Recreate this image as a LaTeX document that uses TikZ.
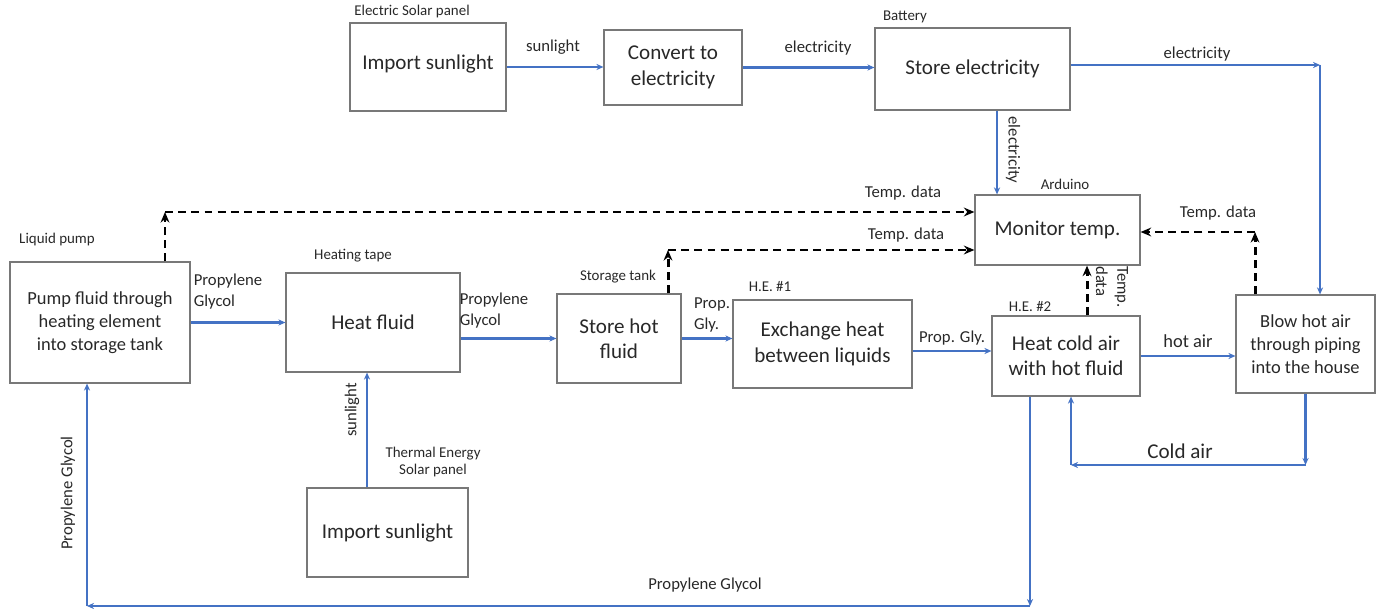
\documentclass[tikz,border=0pt]{standalone}
\usepackage{fontspec}
\setmainfont{Carlito}
\definecolor{FlowBlue}{RGB}{68,114,196}
\definecolor{BoxGray}{RGB}{120,120,120}
\definecolor{InkGray}{RGB}{40,40,40}
\usetikzlibrary{arrows.meta,positioning}

\tikzset{
  stepbox/.style={draw=BoxGray, line width=0.7pt, align=center, inner sep=1pt,
    text=InkGray, font=\fontsize{12}{14.5}\selectfont},
  smallbox/.style={stepbox, font=\fontsize{10.5}{13}\selectfont},
  tag/.style={inner sep=0pt, text=InkGray, font=\fontsize{8.5}{10}\selectfont},
  flowlbl/.style={inner sep=0pt, align=left, text=InkGray, font=\fontsize{9.5}{12}\selectfont},
  flow/.style={draw=FlowBlue, line width=1.3pt, -{Stealth[length=4pt,width=3.5pt]}},
  tempdata/.style={draw=black, line width=1.7pt, dash pattern=on 4.5pt off 3pt,
    -{Stealth[length=6pt,width=5pt]}},
}

\begin{document}
\begin{tikzpicture}[x=0.02cm, y=-0.02cm]
\useasboundingbox (0,0) rectangle (1381,614);

% electric side
\node[stepbox, minimum width=3.12cm, minimum height=1.76cm] (sun1) at (428,67) {\raisebox{5pt}{Import sunlight}};
\node[stepbox, minimum width=2.76cm, minimum height=1.5cm] (conv) at (673,67.5) {Convert to\\electricity};
\node[stepbox, minimum width=3.9cm, minimum height=1.64cm] (batt) at (972.5,69) {\raisebox{2.5pt}{Store electricity}};
\node[stepbox, minimum width=3.3cm, minimum height=1.4cm] (ardu) at (1057.5,230) {\raisebox{2pt}{Monitor temp.}};

% fluid loop
\node[smallbox, minimum width=3.6cm, minimum height=2.42cm] (pump) at (100,322.5) {Pump fluid through\\heating element\\into storage tank};
\node[stepbox, minimum width=3.48cm, minimum height=1.98cm] (tape) at (373,322.5) {Heat fluid};
\node[stepbox, minimum width=2.48cm, minimum height=1.78cm] (tank) at (619,338.5) {Store hot\\fluid};
\node[stepbox, minimum width=3.58cm, minimum height=1.76cm] (hexa) at (822.5,344) {Exchange heat\\between liquids};
\node[stepbox, minimum width=2.96cm, minimum height=1.6cm] (hexb) at (1066,356) {Heat cold air\\with hot fluid};
\node[smallbox, minimum width=2.78cm, minimum height=1.96cm] (blow) at (1305.5,344) {Blow hot air\\through piping\\into the house};
\node[stepbox, minimum width=3.22cm, minimum height=1.78cm] (sun2) at (387.5,532.5) {Import sunlight};

% part names
\node[tag] (tsolar) at (412,12) {Electric Solar panel};
\node[tag] (tbatt) at (905,17) {Battery};
\node[tag] (tardu) at (1065,184) {Arduino};
\node[tag] (tpump) at (57,240) {Liquid pump};
\node[tag] (ttape) at (353,256) {Heating tape};
\node[tag] (ttank) at (618,277) {Storage tank};
\node[tag] (thexa) at (770,287) {H.E. \#1};
\node[tag] (thexb) at (1030,307) {H.E. \#2};
\node[tag, align=center] (tthermal) at (433,462) {Thermal Energy\\Solar panel};

% electricity
\draw[flow] (sun1.east) -- (sun1.east -| conv.west);
\draw[flow] (conv.east) -- (conv.east -| batt.west);
\coordinate (elbow) at (1320,65);
\draw[flow] (batt.east |- elbow) -- (elbow);
\draw[flow] (elbow) -- (elbow |- blow.north);
\coordinate (battdrop) at (997,0);
\draw[flow] (battdrop |- batt.south) -- (battdrop |- ardu.north);

% temperature data
\coordinate (pumpup) at (165,212);
\draw[tempdata] (pumpup |- pump.north) -- (pumpup);
\draw[tempdata] (pumpup) -- (pumpup -| ardu.west);
\coordinate (tankup) at (668,250);
\draw[tempdata] (tankup |- tank.north) -- (tankup);
\draw[tempdata] (tankup) -- (tankup -| ardu.west);
\coordinate (blowup) at (1255,232);
\draw[tempdata] (blowup |- blow.north) -- (blowup);
\draw[tempdata] (blowup) -- (blowup -| ardu.east);
\coordinate (hexup) at (1087,0);
\draw[tempdata] (hexup |- hexb.north) -- (hexup |- ardu.south);

% fluid and air
\draw[flow] (pump.east) -- (pump.east -| tape.west);
\draw[flow] (tape.east |- tank.west) -- (tank.west);
\draw[flow] (tank.east) -- (tank.east -| hexa.west);
\draw[flow] ([yshift=-0.14cm]hexa.east) -- ([yshift=-0.14cm]hexa.east -| hexb.west);
\draw[flow] (hexb.east) -- (hexb.east -| blow.west);
\coordinate (sunup) at (367,0);
\draw[flow] (sunup |- sun2.north) -- (sunup |- tape.south);

\coordinate (coldret) at (1071,465);
\draw[flow] (blow.south) -- (blow.south |- coldret);
\draw[flow] (blow.south |- coldret) -- (coldret);
\draw[flow] (coldret) -- (coldret |- hexb.south);

\coordinate (pgdown) at (1030,606);
\coordinate (pgleft) at (87,606);
\draw[flow] (pgdown |- hexb.south) -- (pgdown);
\draw[flow] (pgdown) -- (pgleft);
\draw[flow] (pgleft) -- (pgleft |- pump.south);

% connector labels
\node[flowlbl] (lsun1) at (553,47) {sunlight};
\node[flowlbl] (lel1) at (818,48) {electricity};
\node[flowlbl] (lel2) at (1197,54) {electricity};
\node[flowlbl, rotate=-90] (lel3) at (1013,150) {electricity};
\node[flowlbl] (ltd1) at (903,193) {Temp. data};
\node[flowlbl] (ltd2) at (906,235) {Temp. data};
\node[flowlbl] (ltd3) at (1218,213) {Temp. data};
\node[flowlbl, rotate=-90] (ltd4) at (1112,287) {Temp.\\data};
\node[flowlbl] (lpg1) at (228,292) {Propylene\\Glycol};
\node[flowlbl] (lpg2) at (494,311) {Propylene\\Glycol};
\node[flowlbl] (lpg3) at (712,315) {Prop.\\Gly.};
\node[flowlbl] (lpg4) at (952,338) {Prop. Gly.};
\node[flowlbl, font=\fontsize{10.5}{13}\selectfont] (lhot) at (1188,341) {hot air};
\node[flowlbl, font=\fontsize{12}{14.5}\selectfont] (lcold) at (1180,451) {Cold air};
\node[flowlbl, rotate=90] (lsun2) at (352,410) {sunlight};
\node[flowlbl, rotate=90] (lpg5) at (68,493) {Propylene Glycol};
\node[flowlbl] (lpg6) at (705,585) {Propylene Glycol};
\end{tikzpicture}
\end{document}
